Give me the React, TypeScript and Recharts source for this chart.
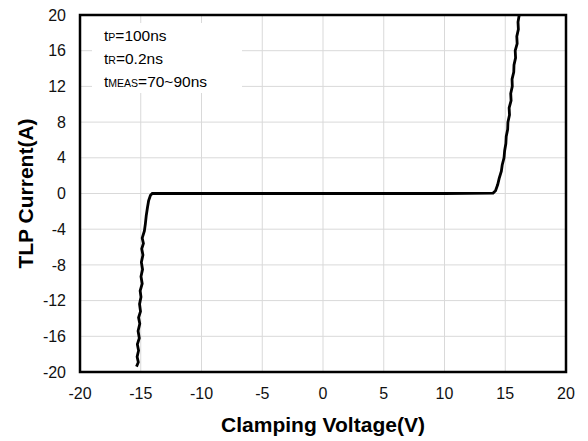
import React from 'react'
import {
  LineChart,
  Line,
  XAxis,
  YAxis,
  CartesianGrid,
  ReferenceArea,
  Label,
} from 'recharts'

// clamping voltage (V) and TLP current (A), traced from bottom-left to top-right
const voltage = [
  -15.35, -15.2, -15.3, -15.18, -15.28, -15.12, -15.22, -15.08, -15.18, -15.02,
  -15.1, -14.98, -15.05, -14.88, -14.98, -14.85, -14.95, -14.82, -14.92, -14.78,
  -14.88, -14.7, -14.62, -14.55, -14.45, -14.35, -14.2, -14.05,
  -10, 0, 10, 14.0,
  14.2, 14.38, 14.5, 14.68, 14.75, 14.9, 14.95, 15.05, 15.08, 15.2, 15.22,
  15.35, 15.32, 15.48, 15.45, 15.58, 15.56, 15.7, 15.72, 15.85, 15.82, 15.98,
  15.95, 16.08, 16.05, 16.15,
]
const current = [
  -19.4, -18.9, -18.3, -17.6, -16.9, -16.2, -15.4, -14.6, -13.9, -13.2,
  -12.4, -11.6, -10.9, -10.1, -9.3, -8.5, -7.7, -6.9, -6.2, -5.6,
  -5.0, -4.2, -3.4, -2.5, -1.6, -0.8, -0.2, 0,
  0, 0, 0, 0.05,
  0.3, 1.0, 1.7, 2.5, 3.2, 4.0, 4.8, 5.6, 6.4, 7.2, 8.0,
  8.8, 9.6, 10.4, 11.2, 12.0, 12.8, 13.6, 14.4, 15.2, 16.0, 16.8,
  17.6, 18.4, 19.2, 20.0,
]
const xTicks = [-20, -15, -10, -5, 0, 5, 10, 15, 20]
const yTicks = [-20, -16, -12, -8, -4, 0, 4, 8, 12, 16, 20]

const data = voltage.map((v, i) => ({ v, i: current[i] }))

const font = 'Arial, "Liberation Sans", sans-serif'
const tickStyle = { fontSize: 16, fill: '#111', fontFamily: font }

const Sub = ({ children }: { children: React.ReactNode }) => (
  <span style={{ fontSize: 10.5 }}>{children}</span>
)

export default function App() {
  return (
    <div style={{ position: 'absolute', left: 0, top: 0, width: 588, height: 441, background: '#fff' }}>
      <LineChart
        width={588}
        height={441}
        data={data}
        margin={{ top: 15, right: 22, bottom: 39, left: 10 }}
      >
        <CartesianGrid stroke="#d9d9d9" strokeWidth={1} />
        <XAxis
          dataKey="v"
          type="number"
          domain={[-20, 20]}
          ticks={xTicks}
          interval={0}
          axisLine={false}
          tickLine={false}
          tick={tickStyle}
          tickMargin={10}
          height={30}
        >
          <Label
            value="Clamping Voltage(V)"
            position="bottom"
            offset={15}
            style={{ fontSize: 21, fontWeight: 'bold', fill: '#000', fontFamily: font }}
          />
        </XAxis>
        <YAxis
          type="number"
          domain={[-20, 20]}
          ticks={yTicks}
          interval={0}
          axisLine={false}
          tickLine={false}
          tick={tickStyle}
          tickMargin={8}
          width={70}
        >
          <Label
            value="TLP Current(A)"
            angle={-90}
            position="insideLeft"
            offset={16}
            style={{ fontSize: 21, fontWeight: 'bold', fill: '#000', fontFamily: font, textAnchor: 'middle' }}
          />
        </YAxis>
        <ReferenceArea x1={-20} x2={20} y1={-20} y2={20} fill="none" stroke="#000" strokeWidth={2.5} />
        <Line
          dataKey="i"
          type="linear"
          stroke="#000"
          strokeWidth={2.8}
          dot={false}
          isAnimationActive={false}
        />
      </LineChart>
      <div
        style={{
          position: 'absolute',
          left: 92,
          top: 23,
          width: 150,
          height: 70,
          background: '#fff',
          fontFamily: font,
          fontSize: 15.5,
          lineHeight: '22px',
          color: '#000',
          paddingLeft: 12,
          paddingTop: 2,
          boxSizing: 'border-box',
        }}
      >
        <div>t<Sub>P</Sub>=100ns</div>
        <div>t<Sub>R</Sub>=0.2ns</div>
        <div>t<Sub>MEAS</Sub>=70~90ns</div>
      </div>
    </div>
  )
}
